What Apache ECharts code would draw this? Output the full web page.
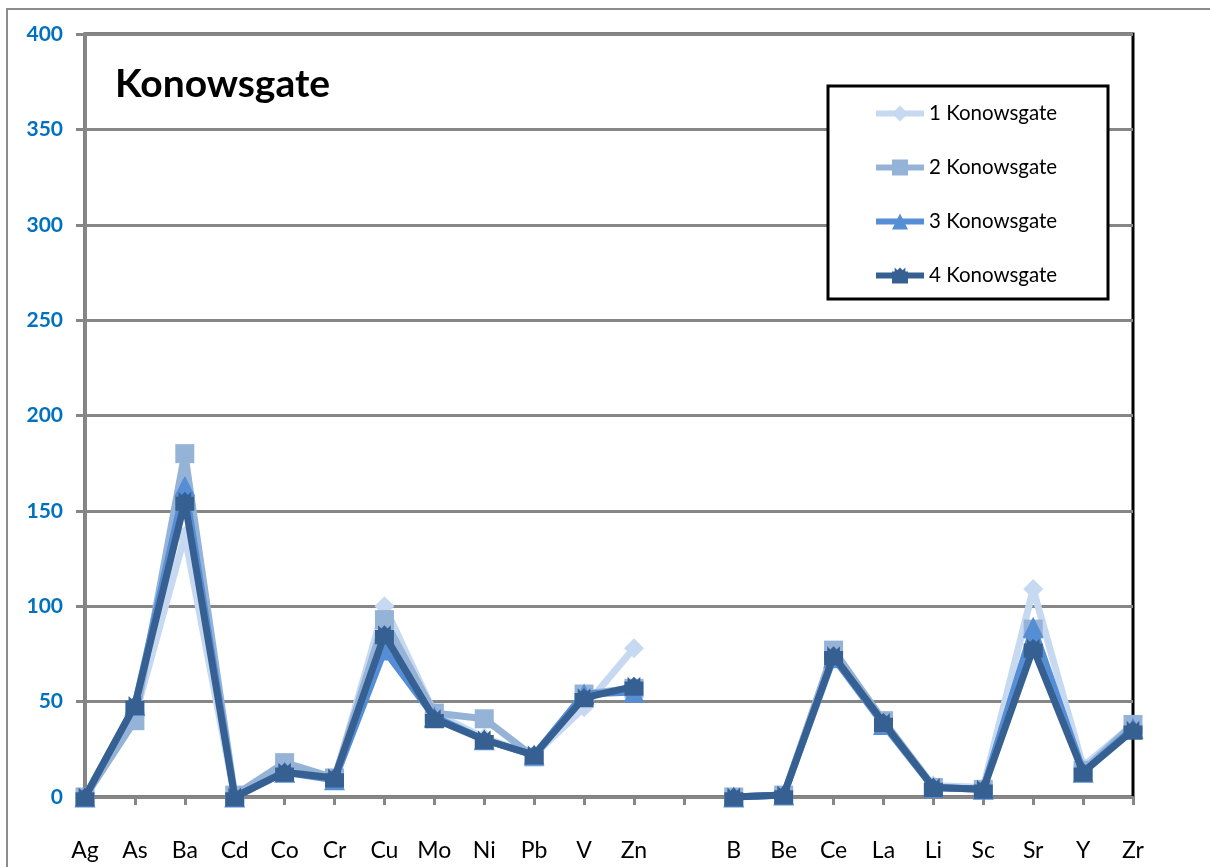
<!DOCTYPE html>
<html>
<head>
<meta charset="utf-8">
<script src="https://cdn.jsdelivr.net/npm/echarts@6/dist/echarts.min.js"></script>
<style>
html,body{margin:0;padding:0;background:#fff;}
#chart{width:1210px;height:867px;}
</style>
</head>
<body>
<div id="chart"></div>
<script>
const categories = ['Ag','As','Ba','Cd','Co','Cr','Cu','Mo','Ni','Pb','V','Zn','','B','Be','Ce','La','Li','Sc','Sr','Y','Zr'];
const seriesNames = ['1 Konowsgate','2 Konowsgate','3 Konowsgate','4 Konowsgate'];
const s1 = [0,42,137,0,18,9,100,44,31,22,47,78,null,0,1,76,40,6,5,109,16,38];
const s2 = [0,40,180,1,18,10,93,44,41,21,54,57,null,0,1,77,40,5,4,88,14,38];
const s3 = [0,48,163,0,13,9,77,42,30,22,54,55,null,0,1,73,38,5,4,89,13,36];
const s4 = [0,48,155,0,13,10,85,41,30,22,52,58,null,0,1,74,39,5,4,78,13,35];
const yTicks = {min:0, max:400, interval:50};

const colors = ['#C6D9F1','#95B3D7','#558ED5','#366092'];
const symbols = ['diamond','rect','triangle','path://M0,3 L2,3 L2,0 L4,2 L6,0 L8,2 L10,0 L10,3 L12,3 L12,12 L0,12 Z'];
const sizes = [20,19,21,19];
const data = [s1,s2,s3,s4];
const FONT = 'Lato';

const chart = echarts.init(document.getElementById('chart'));
chart.setOption({
  animation:false,
  backgroundColor:'#fff',
  title:{text:'Konowsgate', left:110, top:60, textStyle:{fontFamily:FONT, fontWeight:'bold', fontSize:39, color:'#000'}},
  grid:{left:85, top:34, right:77, bottom:70, show:true, borderColor:'#000', borderWidth:3, containLabel:false},
  legend:{
    orient:'vertical', left:868, top:98, itemWidth:48, itemHeight:20, itemGap:33, z:10,
    data:seriesNames,
    lineStyle:{width:6},
    textStyle:{fontFamily:FONT, fontSize:20.5, color:'#000', lineHeight:21}
  },
  xAxis:{
    type:'category', data:categories, boundaryGap:false,
    axisLine:{lineStyle:{color:'#868686', width:3}},
    axisTick:{show:true, length:8, lineStyle:{color:'#868686', width:3}},
    axisLabel:{interval:0, margin:42, fontFamily:FONT, fontSize:23, color:'#000'},
    splitLine:{show:false}
  },
  yAxis:{
    type:'value', min:yTicks.min, max:yTicks.max, interval:yTicks.interval,
    axisLine:{show:true, lineStyle:{color:'#868686', width:3}},
    axisTick:{show:true, length:9, lineStyle:{color:'#868686', width:3}},
    axisLabel:{margin:22, fontFamily:FONT, fontWeight:'bold', fontSize:21, color:'#0070C0'},
    splitLine:{show:true, lineStyle:{color:'#868686', width:3}}
  },
  graphic:[
    {type:'rect', shape:{x:7, y:9, width:1300, height:1000}, style:{fill:null, stroke:'#8c8c8c', lineWidth:2}, z:-10},
    {type:'rect', shape:{x:828, y:86, width:280, height:213}, style:{fill:'#fff', stroke:'#000', lineWidth:3}, z:3}
  ],
  series: data.map((d,i)=>({
    name:seriesNames[i], type:'line', data:d, connectNulls:false,
    symbol:symbols[i], symbolSize:sizes[i], showSymbol:true,
    lineStyle:{color:colors[i], width:7},
    itemStyle:{color:colors[i]},
    z:2+i
  }))
});
</script>
</body>
</html>
